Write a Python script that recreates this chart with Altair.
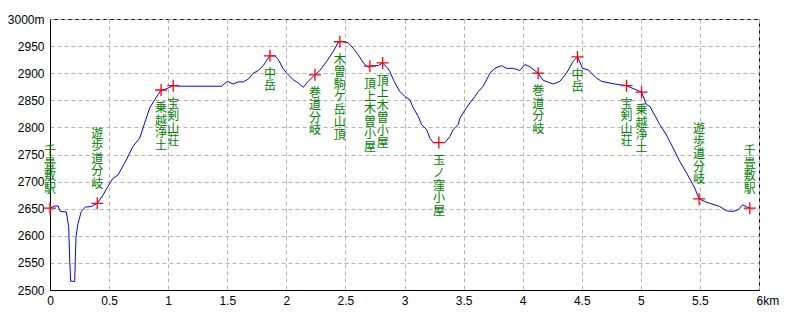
import altair as alt
import pandas as pd

# Elevation profile (distance km, elevation m)
dist_km = [0.0, 0.04, 0.068, 0.087, 0.138, 0.158, 0.167, 0.175, 0.209, 0.22, 0.237, 0.265,
           0.299, 0.349, 0.4, 0.448, 0.49, 0.533, 0.575, 0.646, 0.702, 0.759, 0.801, 0.844,
           0.886, 0.94, 0.984, 1.043, 1.10, 1.269, 1.453, 1.5, 1.551, 1.593, 1.635, 1.678,
           1.72, 1.762, 1.805, 1.847, 1.861, 1.904, 1.932, 1.974, 2.003, 2.058, 2.101, 2.143,
           2.185, 2.242, 2.284, 2.341, 2.397, 2.439, 2.453, 2.468, 2.524, 2.566, 2.608, 2.651,
           2.693, 2.707, 2.735, 2.778, 2.815, 2.862, 2.876, 2.91, 2.958, 3.003, 3.046, 3.074,
           3.117, 3.145, 3.187, 3.215, 3.243, 3.291, 3.342, 3.384, 3.412, 3.454, 3.469, 3.511,
           3.553, 3.596, 3.624, 3.666, 3.695, 3.723, 3.765, 3.822, 3.864, 3.92, 3.976, 4.019,
           4.061, 4.131, 4.173, 4.258, 4.315, 4.371, 4.427, 4.464, 4.507, 4.554, 4.625, 4.667,
           4.78, 4.879, 4.964, 5.006, 5.048, 5.076, 5.161, 5.217, 5.273, 5.33, 5.387, 5.457,
           5.493, 5.556, 5.668, 5.725, 5.781, 5.823, 5.86, 5.894, 5.922]
elev_m = [2651, 2655, 2655, 2645, 2644, 2617, 2555, 2516, 2516, 2598, 2623, 2645,
          2653, 2654, 2660, 2675, 2691, 2706, 2712, 2740, 2765, 2780, 2808, 2836,
          2851, 2869, 2871, 2877, 2876, 2876, 2876, 2885, 2880, 2884, 2884, 2889,
          2900, 2905, 2914, 2928, 2932, 2932, 2925, 2908, 2900, 2888, 2882, 2874,
          2885, 2897, 2905, 2922, 2940, 2957, 2958, 2959, 2956, 2946, 2934, 2919,
          2911, 2913, 2914, 2914, 2919, 2908, 2903, 2886, 2867, 2857, 2851, 2836,
          2820, 2805, 2796, 2780, 2772, 2772, 2772, 2783, 2796, 2805, 2817, 2832,
          2845, 2857, 2866, 2876, 2888, 2900, 2909, 2914, 2909, 2909, 2905, 2916,
          2912, 2900, 2887, 2880, 2885, 2900, 2922, 2930, 2909, 2906, 2891, 2885,
          2880, 2877, 2869, 2865, 2842, 2839, 2805, 2786, 2762, 2737, 2716, 2688,
          2668, 2662, 2654, 2646, 2645, 2648, 2657, 2654, 2651]

# Waypoints
wp_km = [0.0, 0.4, 0.94, 1.043, 1.861, 2.242, 2.453, 2.707, 2.815, 3.291,
         4.131, 4.464, 4.879, 5.006, 5.493, 5.922]
wp_elev = [2651, 2660, 2869, 2877, 2932, 2897, 2958, 2913, 2919, 2772,
           2900, 2930, 2877, 2865, 2668, 2651]
wp_name = ["千畳敷駅", "遊歩道分岐", "乗越浄土", "宝剣山荘", "中岳", "巻道分岐",
           "木曽駒ケ岳山頂", "頂上木曽小屋", "頂上木曽小屋", "玉ノ窪小屋",
           "巻道分岐", "中岳", "宝剣山荘", "乗越浄土", "遊歩道分岐", "千畳敷駅"]
wp_side = ["above", "above", "below", "below", "below", "below", "below", "below",
           "below", "below", "below", "below", "below", "below", "above", "above"]

x_ticks = [0, 0.5, 1, 1.5, 2, 2.5, 3, 3.5, 4, 4.5, 5, 5.5, 6]
y_ticks = [2500, 2550, 2600, 2650, 2700, 2750, 2800, 2850, 2900, 2950, 3000]

LINE_H = 12.5
GAP = 12

profile = pd.DataFrame({"km": dist_km, "elev": elev_m})
wps = pd.DataFrame({
    "km": wp_km, "elev": wp_elev,
    "label": ["\n".join(list(n)) for n in wp_name],
    "nchar": [len(n) for n in wp_name],
    "side": wp_side,
})

xscale = alt.Scale(domain=[0, 6], nice=False, zero=False)
yscale = alt.Scale(domain=[2500, 3000], nice=False, zero=False)

x_axis = alt.Axis(values=x_ticks, title=None, ticks=False, labelPadding=5, labelOverlap=False,
                  labelExpr="datum.value == 6 ? '6km' : format(datum.value, '~g')",
                  labelAlign={"condition": {"test": "datum.value == 6", "value": "left"}, "value": "center"},
                  labelOffset={"condition": {"test": "datum.value == 6", "value": -3}, "value": 0})
y_axis = alt.Axis(values=y_ticks, title=None, ticks=False, labelPadding=6, format="d",
                  labelOverlap=False,
                  labelExpr="datum.value == 3000 ? '3000m' : datum.label")

X = alt.X("km:Q", scale=xscale, axis=x_axis)
Y = alt.Y("elev:Q", scale=yscale, axis=y_axis)

line = alt.Chart(profile).mark_line(color="#0000ff", strokeWidth=1).encode(
    x=X, y=Y, order="km:Q")

points = alt.Chart(wps).mark_point(
    shape="M-1,0L1,0M0,-1L0,1", size=144, stroke="#ff0000", strokeWidth=1.3,
    filled=False, opacity=1).encode(x=X, y=Y)

enc = dict(x=X, y=Y, text="label:N")
text_style = dict(baseline="top", align="center", lineBreak="\n", lineHeight=LINE_H,
                  font="Noto Sans CJK JP", fontSize=12, color="#008000")

text_layers = []
for n in sorted(set(len(w) for w, s in zip(wp_name, wp_side) if s == "above")):
    text_layers.append(
        alt.Chart(wps).transform_filter(f"datum.side == 'above' && datum.nchar == {n}")
        .mark_text(dy=-(GAP + n * LINE_H), **text_style).encode(**enc))

text_below = alt.Chart(wps).transform_filter("datum.side == 'below'").mark_text(
    dy=GAP + 1, **text_style).encode(**enc)

chart = alt.layer(line, points, *text_layers, text_below).properties(
    width=709, height=271,
    autosize=alt.AutoSizeParams(type="none"),
    padding={"left": 50, "top": 19, "right": 41, "bottom": 30},
    background="white",
).configure_view(stroke="black", strokeWidth=1).configure_axis(
    domainColor="black", domainWidth=1,
    gridColor="#b4b4b4", gridDash=[4, 3], gridWidth=1, gridOpacity=1,
    labelFont="Liberation Sans", labelFontSize=12, labelColor="black",
)

chart.save("out.html", embed_options={"renderer": "svg", "actions": False})
